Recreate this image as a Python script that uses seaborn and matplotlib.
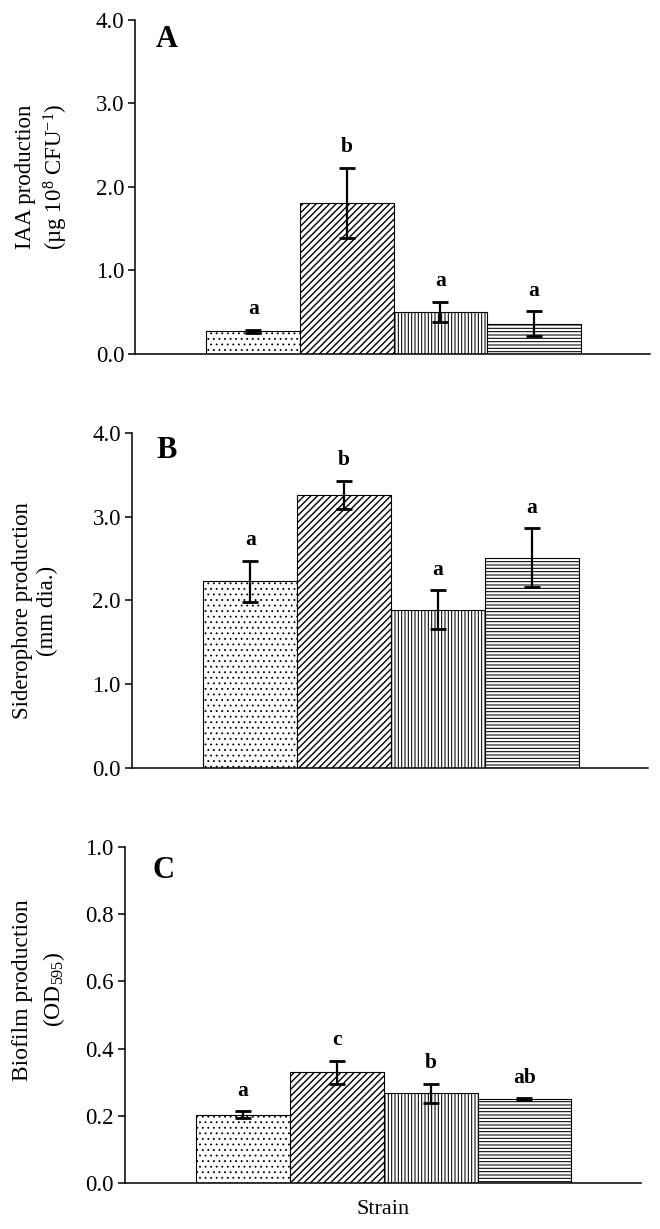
import matplotlib
matplotlib.use("Agg")
import matplotlib.pyplot as plt
import seaborn as sns
import numpy as np
import pandas as pd

# ---- data ----
strains = ["Strain 1", "Strain 2", "Strain 3", "Strain 4"]

iaa_mean = [0.27, 1.81, 0.50, 0.36]
iaa_err = [0.02, 0.42, 0.12, 0.15]
iaa_letters = ["a", "b", "a", "a"]

sid_mean = [2.23, 3.26, 1.89, 2.51]
sid_err = [0.245, 0.17, 0.23, 0.35]
sid_letters = ["a", "b", "a", "a"]

bio_mean = [0.203, 0.329, 0.267, 0.249]
bio_err = [0.010, 0.034, 0.029, 0.003]
bio_letters = ["a", "c", "b", "ab"]

panel_tags = ["A", "B", "C"]
ylabels = [
    "IAA production\n(\u00b5g 10$^{8}$ CFU$^{-1}$)",
    "Siderophore production\n(mm dia.)",
    "Biofilm production\n(OD$_{595}$)",
]
yticks_list = [[0.0, 1.0, 2.0, 3.0, 4.0],
               [0.0, 1.0, 2.0, 3.0, 4.0],
               [0.0, 0.2, 0.4, 0.6, 0.8, 1.0]]
hatches = ["...", "/////", "|||||", "-----"]
hatch_lw = [0.6, 1.0, 0.75, 0.75]

# ---- style ----
sns.set_style("ticks")
plt.rcParams["font.family"] = ["Liberation Serif", "DejaVu Serif"]
plt.rcParams["mathtext.fontset"] = "custom"
plt.rcParams["mathtext.rm"] = "Liberation Serif"
plt.rcParams["mathtext.it"] = "Liberation Serif:italic"
plt.rcParams["mathtext.bf"] = "Liberation Serif:bold"
plt.rcParams["hatch.linewidth"] = 0.8
plt.rcParams["hatch.color"] = "black"
for key in ["text.color", "axes.labelcolor", "xtick.color", "ytick.color",
            "axes.edgecolor"]:
    plt.rcParams[key] = "black"

fig = plt.figure(figsize=(6.6, 12.29), dpi=100)
rects = [[0.205, 0.712, 0.780, 0.2718],
         [0.200, 0.3751, 0.782, 0.2726],
         [0.189, 0.0374, 0.782, 0.2734]]
label_xy = [(-0.18, 0.53), (-0.188, 0.47), (-0.165, 0.575)]
label_fs = [16.5, 16.5, 17]
label_ls = [1.3, 1.25, 1.45]
tag_pos = [(0.040, 0.919), (0.047, 0.925), (0.054, 0.908)]

means_all = [iaa_mean, sid_mean, bio_mean]
errs_all = [iaa_err, sid_err, bio_err]
letters_all = [iaa_letters, sid_letters, bio_letters]

for k in range(3):
    ax = fig.add_axes(rects[k])
    means = means_all[k]
    errs = errs_all[k]
    df = pd.DataFrame({"strain": strains, "value": means})
    sns.barplot(data=df, x="strain", y="value", ax=ax, color="white",
                edgecolor="black", linewidth=0.8, width=1.0,
                errorbar=None, saturation=1)
    for patch, h, hl in zip(ax.patches, hatches, hatch_lw):
        patch.set_hatch(h)
        patch.set_facecolor("white")
        patch.set_edgecolor("black")
        try:
            patch.set_hatch_linewidth(hl)
        except AttributeError:
            pass
    xs = np.arange(len(strains))
    ax.errorbar(xs, means, yerr=errs, fmt="none", ecolor="black",
                elinewidth=1.6, capsize=5.5, capthick=2, zorder=5)
    ymax = yticks_list[k][-1]
    for i, (m, e, L) in enumerate(zip(means, errs, letters_all[k])):
        ax.text(i, m + e + 0.062 * ymax, L, ha="center", va="center",
                fontsize=15.5, fontweight="bold")
    ax.set_ylim(0, ymax)
    ax.set_xlim(-1.26, 4.24)
    ax.set_yticks(yticks_list[k])
    ax.set_yticklabels(["%.1f" % v for v in yticks_list[k]], fontsize=16.5)
    ax.set_xticks([])
    ax.spines["top"].set_visible(False)
    ax.spines["right"].set_visible(False)
    ax.spines["left"].set_linewidth(1.1)
    ax.spines["bottom"].set_linewidth(1.1)
    ax.tick_params(axis="y", direction="out", length=5, width=1.1, pad=3)
    ax.set_ylabel(ylabels[k], fontsize=label_fs[k], linespacing=label_ls[k])
    ax.yaxis.label.set_va("center")
    ax.yaxis.set_label_coords(label_xy[k][0], label_xy[k][1])
    if k == 2:
        ax.set_xlabel("Strain", fontsize=16, labelpad=12)
    else:
        ax.set_xlabel("")
    ax.text(tag_pos[k][0], tag_pos[k][1], panel_tags[k], transform=ax.transAxes,
            fontsize=22, fontweight="bold", ha="left", va="baseline")

fig.savefig("out.png", dpi=100)
